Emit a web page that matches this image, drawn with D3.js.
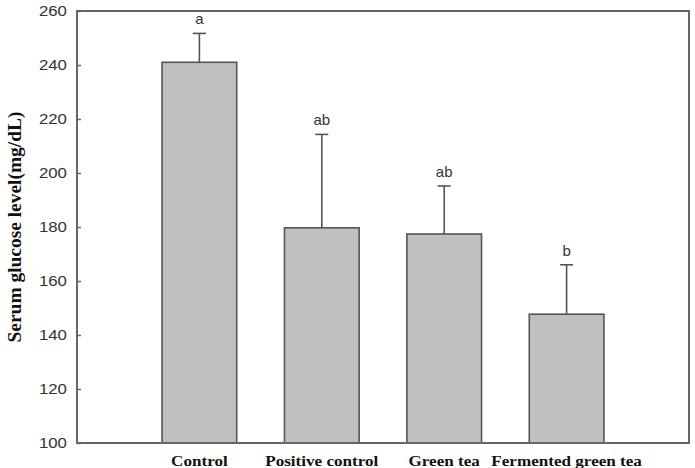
<!DOCTYPE html>
<html>
<head>
<meta charset="utf-8">
<script src="https://cdn.jsdelivr.net/npm/d3@7"></script>
<style>
  body { margin: 0; background: #fff; }
</style>
</head>
<body>
<svg width="695" height="468"></svg>
<script>
var groups = ["Control", "Positive control", "Green tea", "Fermented green tea"];
var means = [241, 179.7, 177.4, 147.7];
var errors = [10.7, 34.6, 17.8, 18.3];
var letters = ["a", "ab", "ab", "b"];
var yTicks = [100, 120, 140, 160, 180, 200, 220, 240, 260];

var svg = d3.select("svg"),
    margin = {top: 11, right: 6, bottom: 25, left: 77},
    width = 695 - margin.left - margin.right,
    height = 468 - margin.top - margin.bottom;

var g = svg.append("g")
    .attr("transform", "translate(" + margin.left + "," + margin.top + ")");

// groups sit at 1..4 on a 0..5 axis
var x = d3.scaleLinear().domain([0, groups.length + 1]).range([0, width]);
var y = d3.scaleLinear().domain([100, 260]).range([height, 0]);
var barW = x(0.61) - x(0);

// bars
g.selectAll(".bar")
    .data(means)
    .enter()
    .append("rect")
    .attr("x", (d, i) => x(i + 1) - barW / 2)
    .attr("y", d => y(d))
    .attr("width", barW)
    .attr("height", d => height - y(d))
    .attr("fill", "#c0c0c0")
    .attr("stroke", "#555")
    .attr("stroke-width", 1.6);

// error bars (upper only)
g.selectAll(".err")
    .data(means)
    .enter()
    .append("line")
    .attr("x1", (d, i) => x(i + 1)).attr("x2", (d, i) => x(i + 1))
    .attr("y1", d => y(d)).attr("y2", (d, i) => y(d + errors[i]))
    .attr("stroke", "#555").attr("stroke-width", 1.6);

g.selectAll(".cap")
    .data(means)
    .enter()
    .append("line")
    .attr("x1", (d, i) => x(i + 1) - 6.5).attr("x2", (d, i) => x(i + 1) + 6.5)
    .attr("y1", (d, i) => y(d + errors[i])).attr("y2", (d, i) => y(d + errors[i]))
    .attr("stroke", "#555").attr("stroke-width", 1.6);

// significance letters
g.selectAll(".letter")
    .data(letters)
    .enter()
    .append("text")
    .attr("x", (d, i) => x(i + 1))
    .attr("y", (d, i) => y(means[i] + errors[i]) - 9)
    .attr("text-anchor", "middle")
    .attr("font-family", "Liberation Sans, Arial, sans-serif")
    .attr("font-size", 15)
    .attr("fill", "#333")
    .text(d => d);

// y axis with inward ticks
var yAxis = g.append("g")
    .call(d3.axisLeft(y).tickValues(yTicks).tickSizeInner(-4).tickSizeOuter(0).tickPadding(9));
yAxis.select(".domain").remove();
yAxis.selectAll("line").attr("stroke", "#666").attr("stroke-width", 1.5);
yAxis.selectAll("text")
    .attr("font-family", "Liberation Sans, Arial, sans-serif")
    .attr("font-size", 15)
    .attr("fill", "#333")
    .attr("transform", "scale(1.12,1)");

// frame
g.append("rect")
    .attr("x", 0).attr("y", 0)
    .attr("width", width).attr("height", height)
    .attr("fill", "none")
    .attr("stroke", "#666")
    .attr("stroke-width", 2);

// x labels
g.selectAll(".xlab")
    .data(groups)
    .enter()
    .append("text")
    .attr("transform", (d, i) => "translate(" + x(i + 1) + "," + (height + 23) + ") scale(1.14,1)")
    .attr("text-anchor", "middle")
    .attr("font-family", "Liberation Serif, Times New Roman, serif")
    .attr("font-weight", "bold")
    .attr("font-size", 15)
    .attr("fill", "#111")
    .text(d => d);

// y title
svg.append("text")
    .attr("transform", "translate(21," + (margin.top + height / 2) + ") rotate(-90) scale(1.08,1)")
    .attr("text-anchor", "middle")
    .attr("font-family", "Liberation Serif, Times New Roman, serif")
    .attr("font-weight", "bold")
    .attr("font-size", 18)
    .attr("fill", "#111")
    .text("Serum glucose level(mg/dL)");
</script>
</body>
</html>
